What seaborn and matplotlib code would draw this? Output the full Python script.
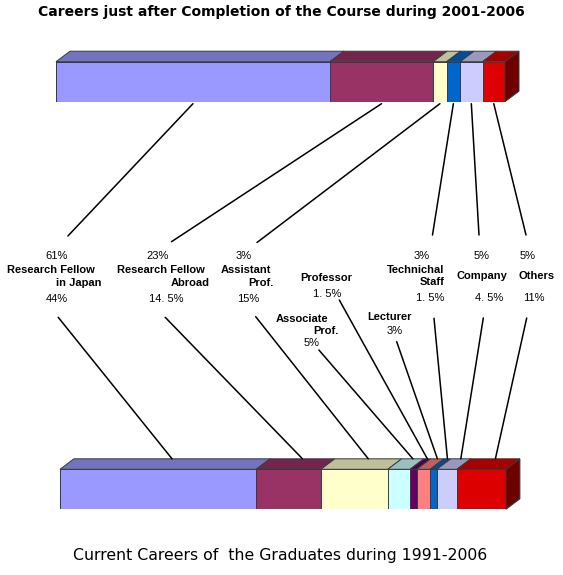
import numpy as np
import pandas as pd
import matplotlib
matplotlib.use("Agg")
import matplotlib.pyplot as plt
import matplotlib.colors as mcolors
from matplotlib.patches import ConnectionPatch
import seaborn as sns

# chart data
top_title = "Careers just after Completion of the Course during 2001-2006"
bottom_title = "Current Careers of  the Graduates during 1991-2006"

top_cats = ["Research Fellow in Japan", "Research Fellow Abroad", "Assistant Prof.",
            "Technichal Staff", "Company", "Others"]
top_values = [61, 23, 3, 3, 5, 5]
top_colors = ["#9999FF", "#993366", "#FFFFCC", "#0066CC", "#CCCCFF", "#DD0000"]

bottom_cats = ["Research Fellow in Japan", "Research Fellow Abroad", "Assistant Prof.",
               "Associate Prof.", "Professor", "Lecturer", "Technichal Staff",
               "Company", "Others"]
bottom_values = [44, 14.5, 15, 5, 1.5, 3, 1.5, 4.5, 11]
bottom_colors = ["#9999FF", "#993366", "#FFFFCC", "#CCFFFF", "#660066", "#FF8080",
                 "#0066CC", "#CCCCFF", "#DD0000"]

sns.set_theme(style="white")
plt.rcParams["text.color"] = "black"

W, H = 563, 575
fig = plt.figure(figsize=(W / 100, H / 100), dpi=100)
fig.patch.set_facecolor("white")

EDGE = "#3a3a3a"
DX, DY = 3.12, 0.21   # depth of the 3d look (x in %, y in bar units)
HALF = 0.4            # half height of the bar front


def shade(c, f):
    r, g, b = mcolors.to_rgb(c)
    return (r * f, g * f, b * f)


def fx(x):
    return x / W


def fy(y):
    return 1 - y / H


def draw_bar(ax, cats, values, colors):
    cum = np.cumsum(values)
    df = pd.DataFrame({"bar": ["b"] * len(values), "cum": cum, "seg": cats})
    sns.barplot(data=df, x="cum", y="bar", hue="seg", hue_order=cats[::-1],
                palette=dict(zip(cats, colors)), dodge=False, orient="h",
                saturation=1, edgecolor=EDGE, linewidth=0.7, width=2 * HALF,
                legend=False, ax=ax)
    lefts = cum - np.array(values)
    for l, r, c in zip(lefts, cum, colors):
        ax.fill([l, l + DX, r + DX, r], [HALF, HALF + DY, HALF + DY, HALF],
                fc=shade(c, 0.75), ec=EDGE, lw=0.7, clip_on=False)
    r = cum[-1]
    ax.fill([r, r + DX, r + DX, r], [-HALF, -HALF + DY, HALF + DY, HALF],
            fc=shade(colors[-1], 0.5), ec=EDGE, lw=0.7, clip_on=False)
    ax.set_xlim(0, 100)
    ax.set_ylim(-HALF, 0.7)
    ax.axis("off")
    return lefts + np.array(values) / 2


# bar front faces: 40 px tall -> 50 px per unit, axes 1.1 units tall
ax_top = fig.add_axes([fx(56), fy(101.7), 449 / W, 55 / H])
ax_bot = fig.add_axes([fx(60), fy(509.3), 446 / W, 55 / H])
top_mid = draw_bar(ax_top, top_cats, top_values, top_colors)
bot_mid = draw_bar(ax_bot, bottom_cats, bottom_values, bottom_colors)

# leader lines: label end (figure pixels) -> bar segment
top_anchor = [(67.9, 236), (171.5, 241.7), (257, 242.5), (432.5, 235), (479, 235), (526, 235)]
bot_anchor = [(58.2, 317.3), (165.2, 317.3), (255.7, 316.7), (318.9, 350), (339.3, 300),
              (396.7, 341.7), (434, 318.3), (483.3, 318), (526.7, 318)]

for (x, y), m in zip(top_anchor, top_mid):
    con = ConnectionPatch(xyA=(fx(x), fy(y)), coordsA=fig.transFigure,
                          xyB=(m, -HALF - 0.04), coordsB=ax_top.transData,
                          color="black", lw=1.1)
    fig.add_artist(con)

for (x, y), m in zip(bot_anchor, bot_mid):
    con = ConnectionPatch(xyA=(fx(x), fy(y)), coordsA=fig.transFigure,
                          xyB=(m + DX, HALF + DY), coordsB=ax_bot.transData,
                          color="black", lw=1.1)
    fig.add_artist(con)

name_font = dict(family=["Liberation Sans", "DejaVu Sans"], weight="bold", size=8)
pct_font = dict(family=["Liberation Sans Narrow", "Liberation Sans"], size=8)


def pct(v):
    return f"{v:g}%".replace(".", ". ")


def put(s, x, y, ha="left", font=name_font):
    fig.text(fx(x), fy(y), s, ha=ha, va="center", color="black", **font)


# percentages of the top bar
top_pct_pos = [(57, "center"), (158, "center"), (244, "center"),
               (421.7, "center"), (481.7, "center"), (528, "center")]
for v, (x, ha) in zip(top_values, top_pct_pos):
    put(pct(v), x, 256, ha, pct_font)

# percentages of the bottom bar
bot_pct_pos = [(57, 299, "center"), (149.3, 299, "left"), (248, 299, "center"),
               (311.4, 343.3, "center"), (313, 294, "left"), (394.5, 331, "center"),
               (416, 298.3, "left"), (475, 298.3, "left"), (522.7, 298.3, "left")]
for v, (x, y, ha) in zip(bottom_values, bot_pct_pos):
    put(pct(v), x, y, ha, pct_font)

# category names
names = [
    ("Research Fellow", 6.7, 270, "left"), ("in Japan", 101.7, 283.3, "right"),
    ("Research Fellow", 116.7, 270, "left"), ("Abroad", 210, 283, "right"),
    ("Assistant", 221, 270, "left"), ("Prof.", 273.3, 283, "right"),
    ("Technichal", 386.7, 270, "left"), ("Staff", 445, 281.7, "right"),
    ("Company", 456.7, 276, "left"), ("Others", 518.3, 276, "left"),
    ("Professor", 300, 278.3, "left"),
    ("Associate", 275.8, 319, "left"), ("Prof.", 339, 330.5, "right"),
    ("Lecturer", 367.3, 316.7, "left"),
]
for s, x, y, ha in names:
    put(s, x, y, ha)

fig.text(fx(281), fy(12), top_title, ha="center", va="center", color="black",
         family="DejaVu Sans", weight="bold", size=10)
fig.text(fx(280), fy(555.5), bottom_title, ha="center", va="center", color="black",
         family="DejaVu Sans", size=11.3)

fig.savefig("out.png", dpi=100)
